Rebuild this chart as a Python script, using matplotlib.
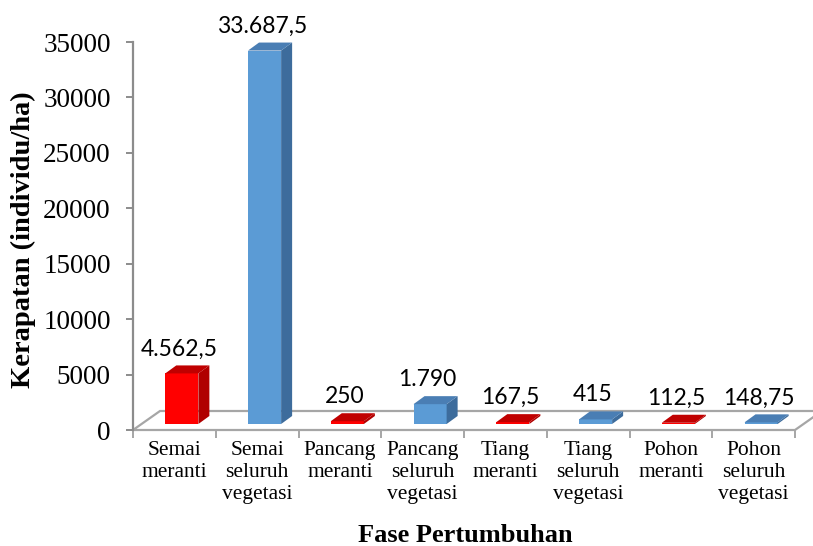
import matplotlib
matplotlib.use("Agg")
import matplotlib.pyplot as plt
from matplotlib.patches import Polygon
from matplotlib.ticker import FixedLocator, NullFormatter

# ---- data ----
categories = ["Semai\nmeranti", "Semai\nseluruh\nvegetasi", "Pancang\nmeranti",
              "Pancang\nseluruh\nvegetasi", "Tiang\nmeranti", "Tiang\nseluruh\nvegetasi",
              "Pohon\nmeranti", "Pohon\nseluruh\nvegetasi"]
values = [4562.5, 33687.5, 250, 1790, 167.5, 415, 112.5, 148.75]
value_labels = ["4.562,5", "33.687,5", "250", "1.790", "167,5", "415", "112,5", "148,75"]
groups = ["meranti", "seluruh", "meranti", "seluruh", "meranti", "seluruh", "meranti", "seluruh"]
y_ticks = [0, 5000, 10000, 15000, 20000, 25000, 30000, 35000]

colors = {
    "meranti": ("#FF0000", "#B00000", "#C00000"),
    "seluruh": ("#5B9BD5", "#3D6C9C", "#4A7EB4"),
}

W, H = 813, 546
fig = plt.figure(figsize=(W / 100, H / 100), dpi=100)
ax_l, ax_r, ax_t, ax_b = 133, 795, 42, 430
ax = fig.add_axes([ax_l / W, (H - ax_b) / H, (ax_r - ax_l) / W, (ax_b - ax_t) / H])
n = len(categories)
ax.set_xlim(0, n)
ax.set_ylim(0, 35000)

px_x = (ax_r - ax_l) / n            # pixels per category
val_per_px = 35000 / (ax_b - ax_t)  # value units per pixel

def dxp(p):
    return p / px_x

def dyp(p):
    return p * val_per_px

# floor
fdx, fdy = dxp(27), dyp(19)
floor = Polygon([(0, 0), (n, 0), (n + fdx, fdy), (fdx, fdy)], closed=True,
                facecolor="white", edgecolor="#A6A6A6", linewidth=1.6,
                zorder=1, clip_on=False)
ax.add_patch(floor)

# bars
bw = 0.40
x_off = 0.39
base = dyp(6)
bdx, bdy = dxp(11), dyp(8)
for i, (v, g, lab) in enumerate(zip(values, groups, value_labels)):
    fc, sc, tc = colors[g]
    x0 = i + x_off
    x1 = x0 + bw
    ax.bar(x0, v, width=bw, bottom=base, align="edge", color=fc,
           edgecolor="none", zorder=3, clip_on=False)
    top = base + v
    side = Polygon([(x1, base), (x1 + bdx, base + bdy), (x1 + bdx, top + bdy), (x1, top)],
                   closed=True, facecolor=sc, edgecolor="none", zorder=3, clip_on=False)
    cap = Polygon([(x0, top), (x1, top), (x1 + bdx, top + bdy), (x0 + bdx, top + bdy)],
                  closed=True, facecolor=tc, edgecolor="none", zorder=4, clip_on=False)
    ax.add_patch(side)
    ax.add_patch(cap)
    ax.text(i + 0.56, top + dyp(18), lab, ha="center", va="baseline",
            family="Lato", fontsize=16.5, color="black", zorder=5, clip_on=False)

# axes styling
for s in ["top", "right", "bottom"]:
    ax.spines[s].set_visible(False)
ax.spines["left"].set_color("#8C8C8C")
ax.spines["left"].set_linewidth(1.6)
ax.set_yticks(y_ticks)
ax.set_yticklabels([str(t) for t in y_ticks], family="Liberation Serif", fontsize=19.5)
ax.tick_params(axis="y", direction="out", length=5, width=1.4, color="#8C8C8C", pad=11)

ax.xaxis.set_major_locator(FixedLocator(list(range(n + 1))))
ax.xaxis.set_major_formatter(NullFormatter())
ax.xaxis.set_minor_locator(FixedLocator([i + 0.5 for i in range(n)]))
ax.set_xticklabels(categories, minor=True, family="Liberation Serif", fontsize=15.5,
                   linespacing=1.22, va="top")
ax.tick_params(axis="x", which="major", direction="out", length=6, width=1.4, color="#A6A6A6")
ax.tick_params(axis="x", which="minor", length=0, pad=8)

fig.text(23 / W, 1 - 240 / H, "Kerapatan (individu/ha)", rotation=90,
         ha="center", va="center", family="Liberation Serif", fontweight="bold", fontsize=20.5)
fig.text(465 / W, 1 - 535 / H, "Fase Pertumbuhan", ha="center", va="center",
         family="Liberation Serif", fontweight="bold", fontsize=19)

fig.savefig("out.png", dpi=100, facecolor="white")
